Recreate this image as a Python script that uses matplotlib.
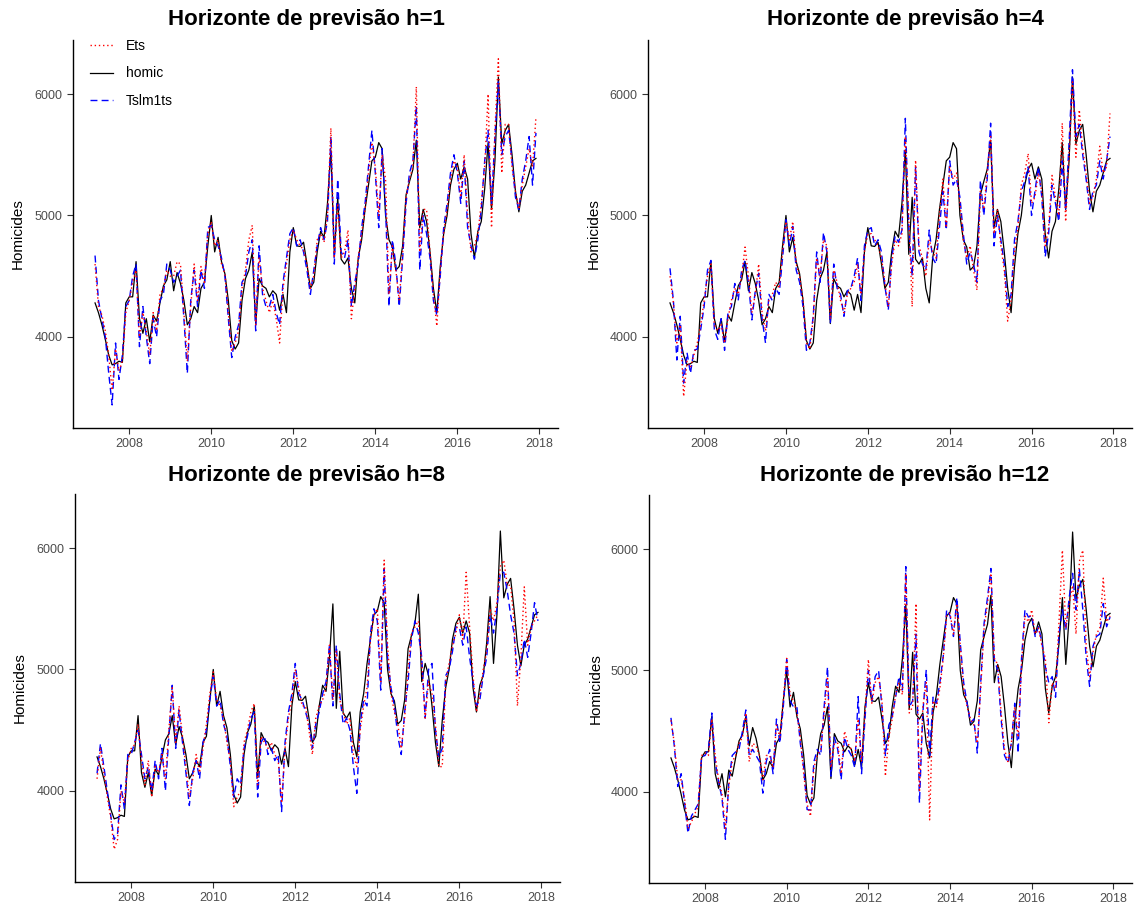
import matplotlib
matplotlib.use("Agg")
import matplotlib.pyplot as plt
import numpy as np

# monthly series, Mar 2007 .. Dec 2017
start_year = 2007 + 2 / 12
n_months = 130

homic = [
    4280, 4200, 4100, 3980, 3850, 3770, 3780, 3800, 3790, 4280,
    4330, 4330, 4620, 4150, 4030, 4150, 3960, 4180, 4130, 4280, 4420, 4470,
    4620, 4380, 4530, 4440, 4300, 4100, 4150, 4250, 4200, 4400, 4450, 4750,
    5000, 4700, 4820, 4620, 4520, 4300, 3970, 3900, 3950, 4300, 4480, 4550,
    4700, 4110, 4480, 4420, 4400, 4330, 4380, 4350, 4220, 4350, 4200, 4700,
    4900, 4750, 4745, 4780, 4600, 4400, 4450, 4700, 4870, 4820, 5100, 5540,
    4680, 5150, 4640, 4600, 4650, 4400, 4280, 4650, 4800, 5050, 5250, 5450,
    5480, 5600, 5550, 5000, 4800, 4740, 4550, 4580, 4750, 5170, 5280, 5380,
    5620, 4900, 5050, 4950, 4700, 4400, 4200, 4580, 4850, 5000, 5250, 5380,
    5430, 5300, 5400, 5300, 4850, 4650, 4870, 4950, 5220, 5600, 5050, 5450,
    6140, 5590, 5700, 5750, 5500, 5200, 5030, 5200, 5250, 5350, 5450, 5470,
]

# horizon h=1
ets_h1 = [
    4600, 4250, 4180, 4050, 3850, 3560, 3900, 3720, 3800, 4200,
    4300, 4450, 4550, 4000, 4200, 4050, 3850, 4200, 4050, 4350, 4400, 4550,
    4500, 4500, 4620, 4600, 4200, 3800, 4250, 4600, 4300, 4580, 4450, 4850,
    4950, 4750, 4800, 4600, 4520, 4200, 3880, 3950, 4050, 4400, 4550, 4800,
    4920, 4100, 4650, 4400, 4300, 4200, 4300, 4150, 3950, 4400, 4600, 4800,
    4880, 4800, 4750, 4720, 4600, 4400, 4500, 4800, 4850, 4780, 5000, 5720,
    4650, 5100, 4650, 4700, 4880, 4150, 4400, 4650, 4850, 5050, 5350, 5600,
    5400, 5000, 5500, 5300, 4350, 4750, 4550, 4300, 4700, 5150, 5300, 5400,
    6060, 4700, 5050, 5050, 4700, 4350, 4090, 4550, 4850, 5050, 5300, 5450,
    5400, 5150, 5500, 5000, 4700, 4750, 4850, 5100, 5400, 6000, 4900, 5700,
    6290, 5350, 5750, 5750, 5400, 5200, 5050, 5250, 5400, 5550, 5400, 5810,
]
tslm_h1 = [
    4670, 4300, 4150, 4000, 3700, 3440, 3950, 3650, 3850, 4250,
    4300, 4500, 4600, 3920, 4250, 4000, 3780, 4150, 4000, 4300, 4350, 4600,
    4550, 4450, 4500, 4550, 4150, 3700, 4300, 4550, 4250, 4550, 4400, 4900,
    4920, 4800, 4750, 4650, 4500, 4150, 3830, 4000, 4100, 4450, 4500, 4700,
    4800, 4050, 4750, 4350, 4250, 4250, 4350, 4200, 4100, 4450, 4650, 4850,
    4900, 4750, 4800, 4700, 4550, 4350, 4550, 4750, 4900, 4800, 4950, 5650,
    4600, 5300, 4700, 4650, 4800, 4250, 4450, 4600, 4900, 5100, 5400, 5700,
    5350, 4900, 5550, 5050, 4250, 4800, 4600, 4250, 4650, 5100, 5350, 5450,
    5900, 4550, 5000, 4850, 4650, 4300, 4180, 4500, 4900, 5100, 5350, 5500,
    5350, 5100, 5450, 4900, 4750, 4640, 4800, 5050, 5450, 5700, 5100, 5650,
    6100, 5500, 5650, 5700, 5450, 5150, 5050, 5300, 5450, 5650, 5250, 5680,
]

# horizon h=4
ets_h4 = [
    4500, 4280, 3950, 4100, 3510, 3800, 3750, 3850, 3950, 4100,
    4300, 4500, 4600, 4100, 4050, 4100, 3950, 4150, 4300, 4400, 4350, 4500,
    4740, 4500, 4200, 4350, 4600, 4200, 4050, 4300, 4350, 4450, 4400, 4700,
    4950, 4800, 4950, 4600, 4500, 4300, 3950, 3900, 4150, 4650, 4500, 4800,
    4750, 4150, 4550, 4450, 4300, 4200, 4350, 4400, 4450, 4600, 4350, 4700,
    4850, 4850, 4800, 4750, 4650, 4450, 4250, 4600, 4800, 4750, 4850, 5650,
    5000, 4250, 5455, 4750, 4650, 4500, 4800, 4700, 4650, 5000, 5300, 4900,
    5400, 5300, 5350, 5100, 4800, 4650, 4750, 4550, 4385, 5200, 5050, 5350,
    5650, 4850, 5050, 4750, 4550, 4130, 4300, 4700, 4900, 5250, 5350, 5510,
    5100, 5150, 5350, 5200, 4750, 4900, 5330, 5150, 5000, 5760, 4950, 5500,
    6100, 5480, 5870, 5550, 5350, 5100, 5150, 5300, 5570, 5350, 5400, 5840,
]
tslm_h4 = [
    4565, 4300, 3810, 4170, 3620, 3870, 3700, 3890, 3900, 4060,
    4250, 4550, 4630, 4060, 3980, 4150, 3890, 4200, 4250, 4440, 4300, 4550,
    4630, 4450, 4140, 4380, 4525, 4150, 3950, 4350, 4300, 4400, 4350, 4650,
    4965, 4750, 4910, 4550, 4450, 4250, 3890, 3950, 4170, 4700, 4450, 4860,
    4700, 4110, 4600, 4400, 4350, 4170, 4380, 4400, 4500, 4650, 4300, 4750,
    4880, 4900, 4750, 4800, 4700, 4420, 4220, 4650, 4830, 4780, 4880, 5800,
    4900, 4500, 5400, 4700, 4600, 4550, 4880, 4650, 4600, 4900, 5200, 4880,
    5450, 5250, 5300, 5150, 4850, 4600, 4700, 4600, 4450, 5290, 5000, 5300,
    5760, 4750, 5000, 4800, 4600, 4250, 4350, 4800, 4950, 5200, 5280, 5400,
    5000, 5200, 5400, 5150, 4660, 4850, 5250, 5100, 4950, 5450, 5050, 5600,
    6200, 5650, 5750, 5500, 5300, 5050, 5200, 5250, 5450, 5300, 5450, 5650,
]

# horizon h=8
ets_h8 = [
    4100, 4350, 4150, 3950, 3780, 3520, 3600, 4000, 3900, 4250,
    4350, 4380, 4550, 4250, 4050, 4250, 3950, 4200, 4150, 4300, 4100, 4500,
    4850, 4400, 4700, 4450, 4200, 3950, 4100, 4300, 4150, 4350, 4550, 4800,
    4980, 4750, 4700, 4600, 4400, 4250, 3870, 3950, 4000, 4400, 4500, 4650,
    4720, 4050, 4450, 4400, 4350, 4400, 4300, 4250, 3900, 4350, 4600, 4750,
    5000, 4850, 4700, 4700, 4500, 4300, 4600, 4700, 4750, 4850, 5200, 4750,
    5150, 4750, 4650, 4550, 4600, 4300, 4200, 4500, 4700, 4850, 5250, 5450,
    5500, 4900, 5900, 5200, 4800, 4650, 4550, 4350, 4600, 5000, 5300, 5350,
    5400, 5050, 4600, 4900, 4800, 4550, 4200, 4200, 4900, 5050, 5200, 5300,
    5450, 5250, 5800, 5350, 4950, 4650, 4800, 5000, 5150, 5500, 5400, 5550,
    5850, 5900, 5700, 5690, 5400, 4700, 5100, 5680, 5200, 5350, 5400, 5450,
]
tslm_h8 = [
    4145, 4390, 4200, 4000, 3800, 3600, 3650, 4050, 3850, 4300,
    4300, 4400, 4500, 4300, 4100, 4200, 4000, 4250, 4100, 4350, 4000, 4450,
    4870, 4350, 4665, 4400, 4150, 3880, 4150, 4250, 4100, 4400, 4500, 4750,
    4950, 4700, 4750, 4550, 4450, 4200, 3950, 4100, 4050, 4350, 4450, 4600,
    4650, 3950, 4400, 4450, 4300, 4350, 4250, 4300, 3830, 4400, 4650, 4800,
    5050, 4800, 4750, 4650, 4550, 4350, 4550, 4650, 4800, 4900, 5200, 4700,
    5200, 4800, 4550, 4600, 4500, 4200, 3980, 4550, 4750, 4700, 5300, 5500,
    5400, 4830, 5830, 5100, 4850, 4700, 4450, 4300, 4650, 4900, 5250, 5400,
    5300, 5100, 4600, 5000, 5050, 4500, 4280, 4350, 4950, 5000, 5150, 5350,
    5350, 5200, 5350, 5100, 4900, 4700, 4750, 4950, 5100, 5450, 5300, 5500,
    5800, 5800, 5650, 5450, 5300, 4950, 5050, 5250, 5100, 5300, 5550, 5400,
]

# horizon h=12
ets_h12 = [
    4590, 4400, 4100, 4100, 3950, 3700, 3750, 3820, 3880, 4300,
    4320, 4300, 4600, 4300, 4100, 3980, 3700, 4050, 4250, 4300, 4400, 4450,
    4650, 4250, 4400, 4380, 4300, 4100, 4300, 4300, 4200, 4550, 4450, 4750,
    5100, 4800, 4750, 4650, 4450, 4150, 3900, 3800, 4200, 4300, 4350, 4650,
    4950, 4200, 4400, 4400, 4150, 4500, 4400, 4350, 4250, 4600, 4250, 4650,
    5090, 4730, 4900, 4950, 4750, 4130, 4450, 4600, 4800, 4900, 4800, 5800,
    4650, 4700, 5550, 4000, 4700, 4900, 3770, 4750, 4700, 4850, 5100, 5450,
    5470, 5300, 5550, 5200, 4850, 4700, 4600, 4550, 4400, 4850, 5350, 5550,
    5800, 5100, 5050, 4650, 4350, 4250, 4400, 4700, 4450, 5050, 5450, 5400,
    5500, 5300, 5350, 5200, 5100, 4570, 4900, 4850, 5400, 5990, 5350, 5550,
    5700, 5300, 5900, 5990, 5200, 4950, 5150, 5300, 5350, 5760, 5400, 5450,
]
tslm_h12 = [
    4610, 4375, 4045, 4150, 3910, 3660, 3800, 3850, 3900, 4290,
    4300, 4350, 4650, 4250, 4080, 3950, 3610, 4080, 4300, 4330, 4350, 4500,
    4675, 4300, 4350, 4300, 4250, 3990, 4250, 4350, 4150, 4600, 4400, 4700,
    5090, 4750, 4700, 4700, 4400, 4200, 3855, 3850, 4250, 4350, 4300, 4700,
    5030, 4130, 4450, 4350, 4100, 4450, 4350, 4300, 4200, 4785, 4150, 4600,
    5000, 4750, 4950, 5000, 4700, 4300, 4550, 4620, 4780, 4950, 4840, 5855,
    4700, 4750, 5300, 3910, 4650, 5005, 4300, 4780, 4730, 4900, 5120, 5500,
    5450, 5280, 5600, 5225, 4900, 4730, 4570, 4600, 4320, 4900, 5390, 5600,
    5840, 5090, 5000, 4600, 4300, 4240, 4400, 4730, 4320, 5100, 5500, 5440,
    5450, 5280, 5360, 5230, 5030, 4900, 4950, 4780, 5300, 5500, 5330, 5600,
    5800, 5500, 5830, 5500, 5100, 4870, 5200, 5280, 5300, 5550, 5360, 5440,
]

horizons = ["1", "4", "8", "12"]
ets_all = [ets_h1, ets_h4, ets_h8, ets_h12]
tslm_all = [tslm_h1, tslm_h4, tslm_h8, tslm_h12]

year_ticks = [2008, 2010, 2012, 2014, 2016, 2018]
value_ticks = [4000, 5000, 6000]

t = start_year + np.arange(n_months) / 12

W, H = 1138, 911
fig = plt.figure(figsize=(W / 100, H / 100), dpi=100)
plt.rcParams["font.family"] = ["Liberation Sans", "DejaVu Sans"]

# panel boxes in pixels: left, top, right, bottom
boxes = [(73, 40, 558, 428), (648, 40, 1132, 428),
         (75, 494, 560, 882), (649, 495, 1132, 883)]
title_pos = [(306, 19), (905, 19), (306, 475), (905, 475)]
ylab_x = [18, 594, 20, 596]

for k in range(4):
    l, tp, r, b = boxes[k]
    ax = fig.add_axes([l / W, 1 - b / H, (r - l) / W, (b - tp) / H])
    ax.plot(t, homic, color="black", lw=0.9, label="homic", zorder=2)
    ax.plot(t, tslm_all[k], color="#0000FF", lw=1.0, ls=(0, (5, 3)),
            label="Tslm1ts", zorder=3)
    ax.plot(t, ets_all[k], color="#FF0000", lw=1.0, ls=(0, (1, 2)),
            label="Ets", zorder=4)

    span = t[-1] - t[0]
    ax.set_xlim(t[0] - 0.05 * span, t[-1] + 0.05 * span)
    ax.set_ylim(3250, 6445)
    ax.set_xticks(year_ticks)
    ax.set_xticklabels([str(y) for y in year_ticks])
    ax.set_yticks(value_ticks)
    ax.set_yticklabels([str(v) for v in value_ticks])
    ax.tick_params(colors="#333333", labelcolor="#4D4D4D", labelsize=9,
                   length=4, width=0.8)
    for side in ["top", "right"]:
        ax.spines[side].set_visible(False)
    for side in ["left", "bottom"]:
        ax.spines[side].set_linewidth(1.0)
        ax.spines[side].set_color("black")

    fig.text(title_pos[k][0] / W, 1 - title_pos[k][1] / H,
             "Horizonte de previsão h=" + horizons[k],
             ha="center", va="center", fontsize=16, fontweight="bold")
    fig.text(ylab_x[k] / W, 1 - (tp + b) / 2 / H, "Homicides",
             rotation=90, ha="center", va="center", fontsize=11)

    if k == 0:
        h, lab = ax.get_legend_handles_labels()
        order = [2, 0, 1]
        ax.legend([h[i] for i in order], [lab[i] for i in order],
                  loc="upper left", bbox_to_anchor=(0.02, 1.02),
                  frameon=False, fontsize=10, borderpad=0,
                  handlelength=1.7, handletextpad=0.9, labelspacing=0.95)

fig.savefig("out.png", dpi=100)
